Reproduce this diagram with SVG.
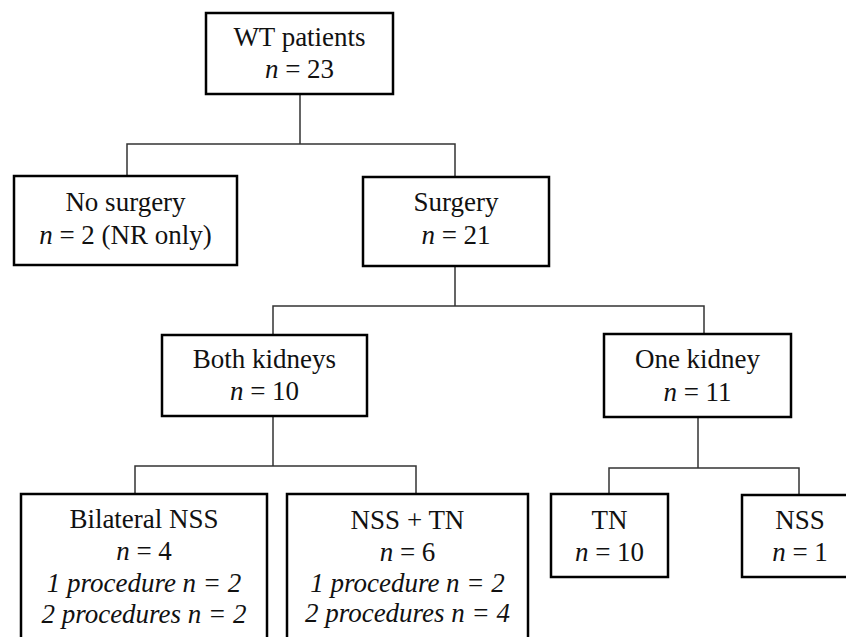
<svg xmlns="http://www.w3.org/2000/svg" width="846" height="637" viewBox="0 0 846 637">
<style>
.box{fill:#fff;stroke:#000;stroke-width:2.5}
.con{fill:none;stroke:#333;stroke-width:1.5}
text{font-family:"Liberation Serif","Times New Roman",serif;font-size:27px;fill:#111;text-anchor:middle}
.i{font-style:italic}
</style>
<rect width="846" height="637" fill="#fff"/>
<g id="connectors">
<path class="con" d="M300,94V144M127,176V144H455V178"/>
<path class="con" d="M455,267V306M273,335V306H704V334"/>
<path class="con" d="M273,416V466M135,494V466H416V494"/>
<path class="con" d="M698,417V468M609,494V468H799V494"/>
</g>
<g id="wt">
<rect class="box" x="206" y="13" width="187" height="81"/>
<text x="299.5" y="46">WT patients</text>
<text x="299.5" y="78"><tspan class="i">n</tspan> = 23</text>
</g>
<g id="nosurgery">
<rect class="box" x="14" y="176" width="223" height="89"/>
<text x="125.5" y="211">No surgery</text>
<text x="125.5" y="244"><tspan class="i">n</tspan> = 2 (NR only)</text>
</g>
<g id="surgery">
<rect class="box" x="363" y="177" width="186" height="89"/>
<text x="456" y="211">Surgery</text>
<text x="456" y="244"><tspan class="i">n</tspan> = 21</text>
</g>
<g id="both">
<rect class="box" x="162" y="335" width="205" height="81"/>
<text x="264.5" y="368">Both kidneys</text>
<text x="264.5" y="400"><tspan class="i">n</tspan> = 10</text>
</g>
<g id="one">
<rect class="box" x="604" y="334" width="187" height="83"/>
<text x="697.5" y="368">One kidney</text>
<text x="697.5" y="401"><tspan class="i">n</tspan> = 11</text>
</g>
<g id="bilateral">
<rect class="box" x="21" y="494" width="246" height="160"/>
<text x="144" y="528">Bilateral NSS</text>
<text x="144" y="560"><tspan class="i">n</tspan> = 4</text>
<text x="144" y="592" class="i">1 procedure n = 2</text>
<text x="144" y="623" class="i">2 procedures n = 2</text>
</g>
<g id="nsstn">
<rect class="box" x="287" y="494" width="241" height="160"/>
<text x="407.5" y="529">NSS + TN</text>
<text x="407.5" y="561"><tspan class="i">n</tspan> = 6</text>
<text x="407.5" y="592" class="i">1 procedure n = 2</text>
<text x="407.5" y="622" class="i">2 procedures n = 4</text>
</g>
<g id="tn">
<rect class="box" x="551" y="494" width="117" height="83"/>
<text x="609.5" y="529">TN</text>
<text x="609.5" y="561"><tspan class="i">n</tspan> = 10</text>
</g>
<g id="nss">
<rect class="box" x="742" y="495" width="116" height="82"/>
<text x="800" y="529">NSS</text>
<text x="800" y="561"><tspan class="i">n</tspan> = 1</text>
</g>
</svg>
